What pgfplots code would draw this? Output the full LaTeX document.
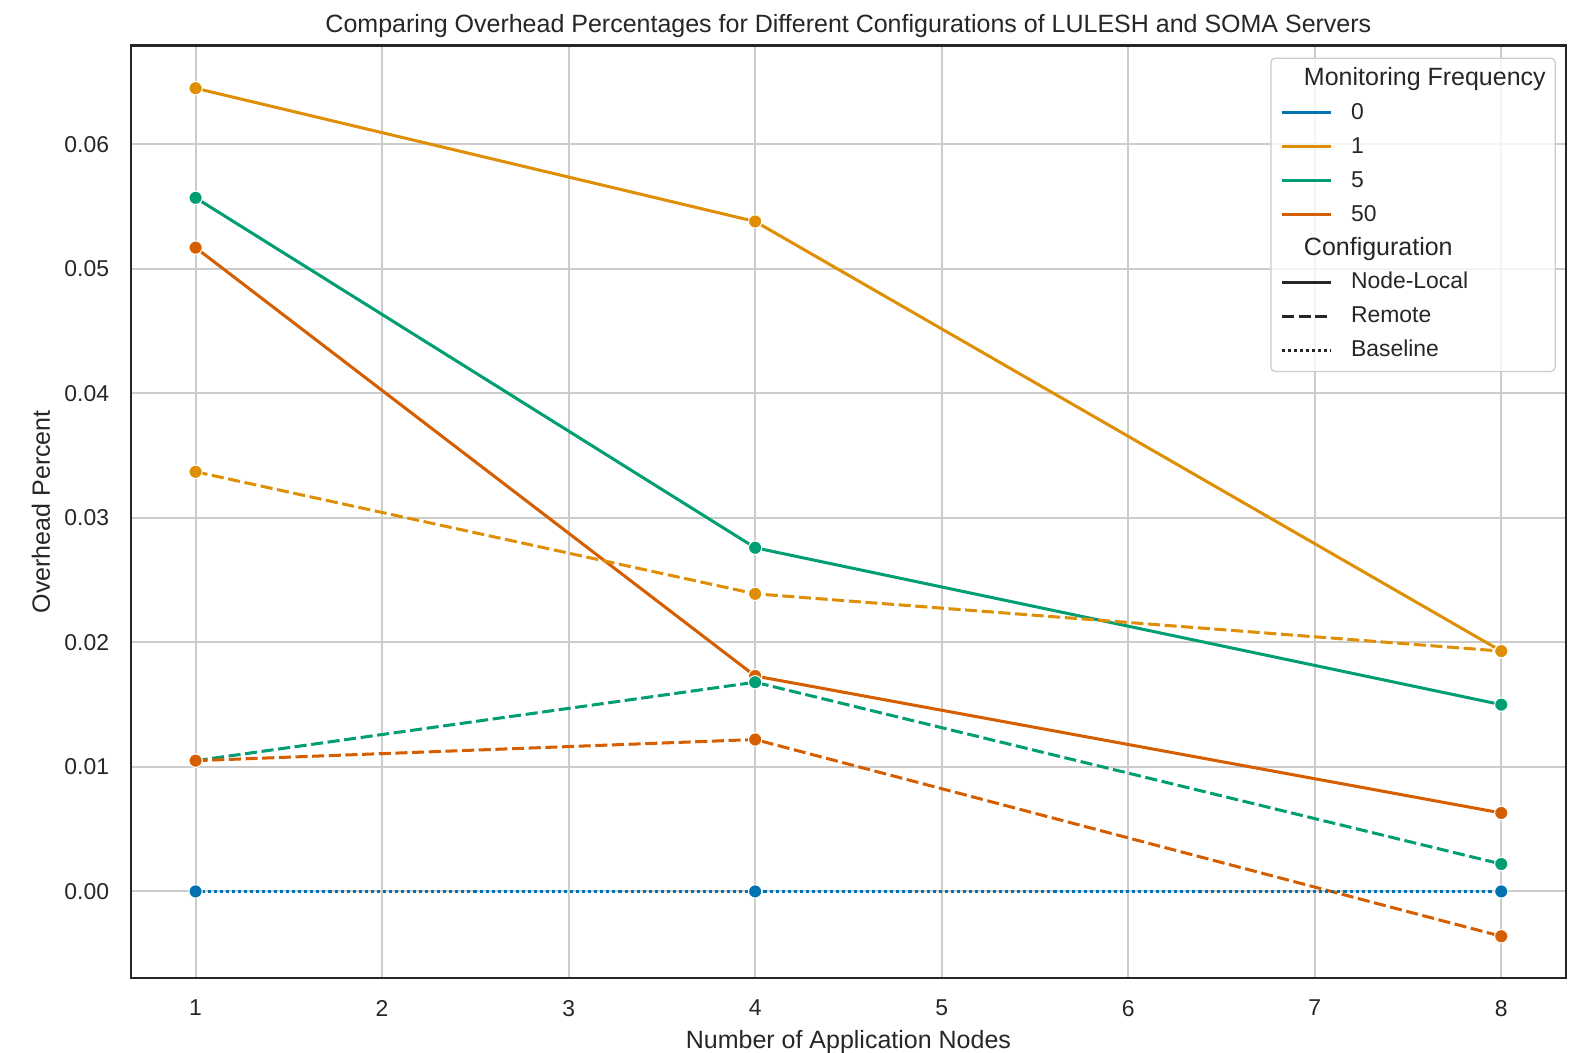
\documentclass[border=0pt]{standalone}
\usepackage{fontspec}
\setmainfont{Liberation Sans}
\usepackage{pgfplots}
\pgfplotsset{compat=1.18}
\definecolor{cb0}{HTML}{0173B2}
\definecolor{cb1}{HTML}{DE8F05}
\definecolor{cb2}{HTML}{029E73}
\definecolor{cb3}{HTML}{D55E00}
\definecolor{axdark}{HTML}{262626}
\definecolor{gridgray}{HTML}{CCCCCC}
\begin{document}
\begin{tikzpicture}
\begin{axis}[name=ax, scale only axis, width=688.7pt, height=447.7pt,
  xmin=0.654, xmax=8.346, ymin=-0.00696, ymax=0.06794,
  xtick={1,2,3,4,5,6,7,8},
  ytick={0,0.01,0.02,0.03,0.04,0.05,0.06},
  scaled y ticks=false,
  yticklabel style={xshift=-7pt, /pgf/number format/.cd, fixed, fixed zerofill, precision=2},
  /pgf/number format/assume math mode=true,
  major tick length=0pt,
  grid=major, grid style={gridgray, line width=1pt},
  axis line style={axdark, line width=1.2pt},
  ticklabel style={font=\fontsize{11}{13}\selectfont, text=axdark},
  xticklabel style={yshift=-7pt},
  label style={font=\fontsize{12}{14}\selectfont, text=axdark},
  title style={font=\fontsize{12}{14}\selectfont, text=axdark, yshift=-6pt},
  title={Comparing Overhead Percentages for Different Configurations of LULESH and SOMA Servers},
  xlabel={Number of Application Nodes},
  ylabel={Overhead Percent},
  legend cell align=left,
  legend image code/.code={\draw[#1] (0pt,0pt) -- (23.7pt,0pt);},
  legend style={at={(rel axis cs:0.993,0.987)}, anchor=north east,
    draw=gridgray, line width=0.6pt, rounded corners=2pt, fill=white, fill opacity=0.8, text opacity=1,
    inner xsep=4.5pt, inner ysep=4.5pt,
    font=\fontsize{11}{13}\selectfont, text=axdark,
    nodes={inner sep=0pt, text height=8.5pt, text depth=2.5pt},
    row sep=5.3pt, column sep=8.8pt},
  every axis plot/.append style={line width=1.45pt},
]
% Node-Local freq 1
\addplot[forget plot, cb1, mark=*, mark size=3.2pt, mark options={solid, draw=white, line width=0.5pt, fill=cb1}] coordinates {(1,0.0645) (4,0.0538) (8,0.0193)};
% Node-Local freq 5
\addplot[forget plot, cb2, mark=*, mark size=3.2pt, mark options={solid, draw=white, line width=0.5pt, fill=cb2}] coordinates {(1,0.0557) (4,0.0276) (8,0.0150)};
% Node-Local freq 50
\addplot[forget plot, cb3, mark=*, mark size=3.2pt, mark options={solid, draw=white, line width=0.5pt, fill=cb3}] coordinates {(1,0.0517) (4,0.0173) (8,0.0063)};
% Remote freq 1
\addplot[forget plot, cb1, dash pattern=on 5.8pt off 2.2pt, mark=*, mark size=3.2pt, mark options={solid, draw=white, line width=0.5pt, fill=cb1}] coordinates {(1,0.0337) (4,0.0239) (8,0.0193)};
% Remote freq 5
\addplot[forget plot, cb2, dash pattern=on 5.8pt off 2.2pt, mark=*, mark size=3.2pt, mark options={solid, draw=white, line width=0.5pt, fill=cb2}] coordinates {(1,0.0105) (4,0.0168) (8,0.0022)};
% Remote freq 50
\addplot[forget plot, cb3, dash pattern=on 5.8pt off 2.2pt, mark=*, mark size=3.2pt, mark options={solid, draw=white, line width=0.5pt, fill=cb3}] coordinates {(1,0.0105) (4,0.0122) (8,-0.0036)};
% Baseline freq 0
\addplot[forget plot, cb0, dash pattern=on 1.45pt off 1.45pt, mark=*, mark size=3.2pt, mark options={solid, draw=white, line width=0.5pt, fill=cb0}] coordinates {(1,0) (4,0) (8,0)};

\addlegendimage{empty legend}
\addlegendentry{\hspace*{-22.6pt}\fontsize{12}{14}\selectfont Monitoring Frequency}
\addlegendimage{cb0, line width=1.45pt}
\addlegendentry{0}
\addlegendimage{cb1, line width=1.45pt}
\addlegendentry{1}
\addlegendimage{cb2, line width=1.45pt}
\addlegendentry{5}
\addlegendimage{cb3, line width=1.45pt}
\addlegendentry{50}
\addlegendimage{empty legend}
\addlegendentry{\hspace*{-22.6pt}\fontsize{12}{14}\selectfont Configuration}
\addlegendimage{axdark, line width=1.45pt}
\addlegendentry{Node-Local}
\addlegendimage{axdark, line width=1.45pt, dash pattern=on 5.8pt off 2.2pt}
\addlegendentry{Remote}
\addlegendimage{axdark, line width=1.45pt, dash pattern=on 1.45pt off 1.45pt}
\addlegendentry{Baseline}
\end{axis}
\pgfresetboundingbox
\path (ax.south west) ++(-62.9pt,-35.8pt) rectangle ++(758.9pt,505.3pt);
\end{tikzpicture}
\end{document}
